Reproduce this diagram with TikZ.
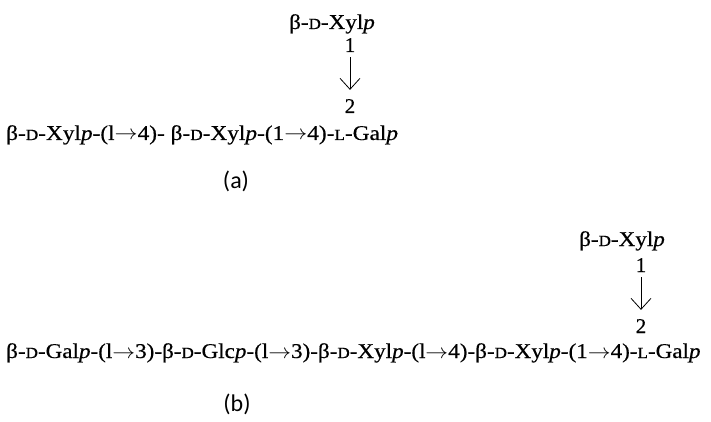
\documentclass[tikz,border=0pt]{standalone}
\usepackage{graphicx}
\usepackage{fontspec}
\setmainfont{Liberation Serif}[FakeBold=0.5]
\newfontfamily\labfont{Carlito}
\usetikzlibrary{arrows.meta}
\newcommand{\sm}[1]{{\fontsize{15.5}{15.5}\selectfont #1}}
\newcommand{\wide}[2]{\scalebox{#1}[1]{#2}}

\begin{document}
\begin{tikzpicture}[x=1pt,y=1pt,
  sugar/.style={inner sep=0pt,font=\fontsize{21}{24}\selectfont},
  panel/.style={inner sep=0pt,font=\labfont\fontsize{24}{28}\selectfont},
  link/.style={-{Straight Barb[length=11pt,width=20pt]},line width=0.8pt,shorten <=5pt,shorten >=9pt}]
\useasboundingbox (0,0) rectangle (711,-422);
% (a)
\node[sugar,anchor=base] (topa) at (332,-29) {\wide{1.1}{β-\sm{D}-Xyl\textit{p}}};
\node[sugar,anchor=base] (onea) at (350,-52) {1};
\node[sugar,anchor=base] (twoa) at (350,-113) {2};
\node[sugar,anchor=base west] (chaina) at (6,-140) {\wide{1.11}{β-\sm{D}-Xyl\textit{p}-(l$\rightarrow$4)- β-\sm{D}-Xyl\textit{p}-(1$\rightarrow$4)-\sm{L}-Gal\textit{p}}};
\draw[link] (onea.south) -- (twoa.north);
\node[panel] (laba) at (236,-181) {(a)};
% (b)
\node[sugar,anchor=base] (topb) at (622,-246) {\wide{1.1}{β-\sm{D}-Xyl\textit{p}}};
\node[sugar,anchor=base] (oneb) at (641,-272) {1};
\node[sugar,anchor=base] (twob) at (641,-333) {2};
\node[sugar,anchor=base west] (chainb) at (6,-358) {\wide{1.1}{β-\sm{D}-Gal\textit{p}-(l$\rightarrow$3)-β-\sm{D}-Glc\textit{p}-(l$\rightarrow$3)-β-\sm{D}-Xyl\textit{p}-(l$\rightarrow$4)-β-\sm{D}-Xyl\textit{p}-(1$\rightarrow$4)-\sm{L}-Gal\textit{p}}};
\draw[link] (oneb.south) -- (twob.north);
\node[panel] (labb) at (237,-404) {(b)};
\end{tikzpicture}
\end{document}
